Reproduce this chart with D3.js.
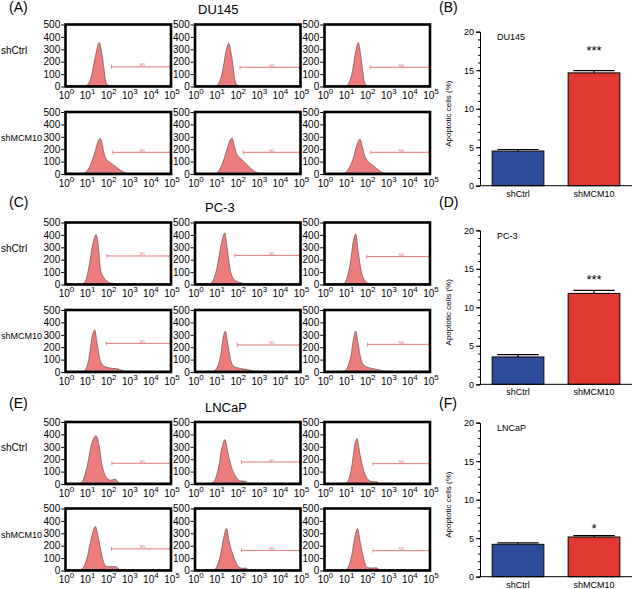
<!DOCTYPE html>
<html>
<head>
<meta charset="utf-8">
<script src="https://cdn.jsdelivr.net/npm/d3@7/dist/d3.min.js"></script>
<style>
  html, body { margin: 0; padding: 0; background: #fff; }
  svg { display: block; font-family: Arial, "Liberation Sans", sans-serif; }
</style>
</head>
<body>
<svg id="chart" width="633" height="589"></svg>
<script>
// ---------------- DATA ----------------
const cellLines = ["DU145", "PC-3", "LNCaP"];
const panelLettersLeft = ["(A)", "(C)", "(E)"];
const panelLettersRight = ["(B)", "(D)", "(F)"];
const rowLabels = ["shCtrl", "shMCM10"];
const histYTicks = [0, 100, 200, 300, 400, 500];
const histXExponents = [0, 1, 2, 3, 4, 5];

// histogram outlines: [log10 fluorescence, count]
const du145Ctrl = [
  [[0.9,0],[1.1,27],[1.26,107],[1.45,270],[1.6,354],[1.72,270],[1.81,161],[1.89,54],[2.0,13],[2.15,5],[2.3,0]],
  [[0.95,0],[1.12,25],[1.3,120],[1.48,290],[1.6,349],[1.72,260],[1.82,140],[1.9,45],[2.0,12],[2.15,6],[2.3,0]],
  [[0.98,0],[1.15,25],[1.32,120],[1.5,300],[1.6,355],[1.7,270],[1.8,140],[1.88,45],[1.98,10],[2.1,0]]
];
const du145Mcm = [
  [[0.7,0],[0.9,8],[1.18,73],[1.4,180],[1.55,265],[1.65,288],[1.75,230],[1.85,150],[1.97,113],[2.1,95],[2.28,73],[2.59,32],[2.8,12],[3.0,0]],
  [[0.9,0],[1.1,20],[1.36,113],[1.55,220],[1.68,280],[1.76,288],[1.86,230],[1.98,160],[2.16,126],[2.35,95],[2.56,59],[2.8,25],[2.97,8],[3.1,0]],
  [[0.85,0],[1.1,30],[1.35,120],[1.55,240],[1.68,282],[1.78,230],[1.9,150],[2.07,100],[2.25,75],[2.46,46],[2.7,15],[2.9,0]]
];
const pc3Ctrl = [
  [[0.75,0],[0.95,30],[1.1,132],[1.3,330],[1.45,403],[1.55,320],[1.65,132],[1.78,65],[1.89,41],[2.1,15],[2.4,6],[2.7,0]],
  [[0.65,0],[0.85,30],[1.04,132],[1.25,330],[1.41,416],[1.52,300],[1.7,93],[1.94,28],[2.3,10],[2.7,4],[3.0,0]],
  [[0.85,0],[1.0,25],[1.2,150],[1.38,360],[1.48,408],[1.6,260],[1.76,93],[2.0,16],[2.2,0]]
];
const pc3Mcm = [
  [[0.75,0],[0.95,20],[1.1,100],[1.28,300],[1.38,340],[1.5,230],[1.65,90],[1.8,50],[1.95,38],[2.2,30],[2.5,25],[2.75,8],[2.9,0]],
  [[0.8,0],[1.0,25],[1.2,120],[1.35,290],[1.44,330],[1.55,230],[1.7,90],[1.85,45],[2.0,35],[2.3,25],[2.6,15],[2.9,0]],
  [[0.85,0],[1.05,25],[1.25,130],[1.4,290],[1.48,330],[1.6,220],[1.75,90],[1.9,50],[2.05,38],[2.35,25],[2.65,15],[3.0,0]]
];
const lncapCtrl = [
  [[0.65,0],[0.8,20],[1.02,139],[1.25,330],[1.45,389],[1.6,300],[1.73,153],[1.85,80],[1.97,47],[2.15,30],[2.36,40],[2.5,15],[2.6,0]],
  [[0.7,0],[0.9,20],[1.1,120],[1.3,310],[1.42,358],[1.55,260],[1.7,152],[1.94,59],[2.15,25],[2.34,24],[2.5,8],[2.6,0]],
  [[0.95,0],[1.1,20],[1.3,150],[1.45,330],[1.54,366],[1.68,240],[1.85,112],[2.09,32],[2.3,18],[2.46,19],[2.6,6],[2.7,0]]
];
const lncapMcm = [
  [[0.6,0],[0.8,15],[1.02,100],[1.25,280],[1.42,355],[1.55,270],[1.7,140],[1.89,39],[2.1,30],[2.36,32],[2.55,10],[2.67,0]],
  [[0.85,0],[1.0,20],[1.2,120],[1.38,280],[1.49,338],[1.62,230],[1.84,108],[2.08,27],[2.25,18],[2.4,19],[2.55,6],[2.64,0]],
  [[0.95,0],[1.1,20],[1.3,130],[1.46,290],[1.56,338],[1.7,220],[1.85,100],[2.0,27],[2.2,20],[2.46,22],[2.6,6],[2.7,0]]
];
// M1 gates: [start log10, count level]
const du145Gates = [[[2.18,158],[2.13,155],[2.16,155]], [[2.24,175],[2.29,175],[2.2,175]]];
const pc3Gates   = [[[1.97,230],[1.89,235],[2.0,225]], [[1.94,231],[2.0,218],[2.04,223]]];
const lncapGates = [[[2.2,167],[2.2,177],[2.3,164]], [[2.18,174],[2.2,162],[2.3,160]]];

// bar charts
const barCategories = ["shCtrl", "shMCM10"];
const du145Means = [4.5, 14.65];
const du145Errs  = [0.2, 0.3];
const pc3Means   = [3.55, 11.8];
const pc3Errs    = [0.3, 0.4];
const lncapMeans = [4.2, 5.15];
const lncapErrs  = [0.2, 0.18];
const sigLabels  = ["***", "***", "*"];
const sigLevels  = [17.9, 13.9, 6.6];
const barYTicks  = [0, 5, 10, 15, 20];
const barColors  = ["#2e4b9b", "#e23a30"];

// ---------------- DRAW ----------------
const svg = d3.select("#chart");
const histSets = [[du145Ctrl, du145Mcm], [pc3Ctrl, pc3Mcm], [lncapCtrl, lncapMcm]];
const gateSets = [du145Gates, pc3Gates, lncapGates];
const barMeans = [du145Means, pc3Means, lncapMeans];
const barErrs  = [du145Errs, pc3Errs, lncapErrs];

const colX = [65.5, 195, 324.5];
const boxW = 105.5, boxH = 62;
const rowTops = [[24.5, 112], [222.5, 310], [422, 508.5]];
const titleY = [14, 212, 412];
const titleX = [198, 205, 205];
const letterY = [12, 207, 408];
const barZero = [185.7, 384.3, 576.7];
const barH = 154;
const rowLabelSize = [10, 9];

const histFill = "#ec7c7b", histLine = "#6a5050", gateColor = "#e0777a";

cellLines.forEach((cl, ci) => {
  // panel letters & titles
  svg.append("text").attr("x", 9).attr("y", letterY[ci]).attr("font-size", 14).text(panelLettersLeft[ci]);
  svg.append("text").attr("x", 439).attr("y", letterY[ci]).attr("font-size", 14).text(panelLettersRight[ci]);
  svg.append("text").attr("x", titleX[ci]).attr("y", titleY[ci]).attr("font-size", 13).text(cl);

  rowLabels.forEach((rl, ri) => {
    const top = rowTops[ci][ri];
    svg.append("text").attr("x", 1).attr("y", top + 29).attr("font-size", rowLabelSize[ri]).text(rl);
    histSets[ci][ri].forEach((pts, k) => {
      const left = colX[k];
      const x = d3.scaleLog().domain([1, 1e5]).range([left, left + boxW]);
      const y = d3.scaleLinear().domain([0, 500]).range([top + boxH, top]);
      const g = svg.append("g");
      const area = d3.area()
        .x(d => x(Math.pow(10, d[0]))).y0(y(0)).y1(d => y(d[1]))
        .curve(d3.curveMonotoneX);
      const line = d3.line()
        .x(d => x(Math.pow(10, d[0]))).y(d => y(d[1]))
        .curve(d3.curveMonotoneX);
      g.append("path").datum(pts).attr("d", area).attr("fill", histFill);
      g.append("path").datum(pts).attr("d", line).attr("fill", "none")
        .attr("stroke", histLine).attr("stroke-width", 0.7);
      g.append("line").attr("x1", left).attr("x2", left + boxW)
        .attr("y1", y(0) - 1).attr("y2", y(0) - 1).attr("stroke", histLine).attr("stroke-width", 0.8);
      // gate
      const gt = gateSets[ci][ri][k];
      const gx0 = x(Math.pow(10, gt[0])), gx1 = x(1e5) - 1, gy = y(gt[1]);
      g.append("line").attr("x1", gx0).attr("x2", gx1).attr("y1", gy).attr("y2", gy)
        .attr("stroke", gateColor).attr("stroke-width", 1);
      [gx0, gx1].forEach(xx => g.append("line").attr("x1", xx).attr("x2", xx)
        .attr("y1", gy - 2).attr("y2", gy + 2).attr("stroke", gateColor).attr("stroke-width", 0.8));
      g.append("text").attr("x", x(Math.pow(10, 3.65))).attr("y", gy - 0.5)
        .attr("font-size", 4).attr("text-anchor", "middle").attr("fill", gateColor).text("M1");
      // box
      g.append("rect").attr("x", left).attr("y", top).attr("width", boxW).attr("height", boxH)
        .attr("fill", "none").attr("stroke", "#000").attr("stroke-width", 2.6);
      // y axis
      const ya = g.append("g").attr("transform", `translate(${left - 1.3},0)`)
        .call(d3.axisLeft(y).tickValues(histYTicks).tickSize(3).tickPadding(1).tickFormat(d3.format("d")));
      ya.select(".domain").remove();
      ya.selectAll("text").attr("font-size", 10).attr("font-family", "Arial, 'Liberation Sans', sans-serif").attr("fill", "#000");
      ya.selectAll("line").attr("stroke", "#000");
      // x labels
      histXExponents.forEach(e => {
        const t = g.append("text").attr("x", x(Math.pow(10, e)) + 1).attr("y", top + boxH + 12.5)
          .attr("font-size", 10).attr("text-anchor", "middle");
        t.append("tspan").text("10");
        t.append("tspan").attr("dy", -5).attr("font-size", 8).text(e);
      });
    });
  });

  // bar chart
  const y0 = barZero[ci];
  const yb = d3.scaleLinear().domain([0, 20]).range([y0, y0 - barH]);
  const xb = d3.scaleBand().domain(barCategories).range([480, 632]).paddingInner(0.32).paddingOuter(0.16);
  const gb = svg.append("g");
  const means = barMeans[ci], errs = barErrs[ci];
  barCategories.forEach((c, i) => {
    const bx = xb(c), bw = xb.bandwidth();
    // error bar
    gb.append("line").attr("x1", bx + bw / 2).attr("x2", bx + bw / 2)
      .attr("y1", yb(means[i])).attr("y2", yb(means[i] + errs[i])).attr("stroke", "#000").attr("stroke-width", 1.2);
    gb.append("line").attr("x1", bx + bw * 0.1).attr("x2", bx + bw * 0.9)
      .attr("y1", yb(means[i] + errs[i])).attr("y2", yb(means[i] + errs[i])).attr("stroke", "#000").attr("stroke-width", 1.2);
    gb.append("rect").attr("x", bx).attr("y", yb(means[i])).attr("width", bw)
      .attr("height", yb(0) - yb(means[i])).attr("fill", barColors[i]).attr("stroke", "#111").attr("stroke-width", 1.1);
    gb.append("text").attr("x", bx + bw / 2).attr("y", y0 + 11).attr("font-size", 9)
      .attr("text-anchor", "middle").text(c);
  });
  // significance
  gb.append("text").attr("x", xb("shMCM10") + xb.bandwidth() / 2).attr("y", yb(sigLevels[ci]) + 7)
    .attr("font-size", 13).attr("text-anchor", "middle").text(sigLabels[ci]);
  // axes
  const minor = gb.append("g").attr("transform", "translate(480,0)")
    .call(d3.axisLeft(yb).tickValues(d3.range(0, 21)).tickSize(2).tickFormat(""));
  minor.select(".domain").remove();
  const ya = gb.append("g").attr("transform", "translate(480,0)")
    .call(d3.axisLeft(yb).tickValues(barYTicks).tickSize(4).tickPadding(2));
  ya.selectAll("text").attr("font-size", 9).attr("font-family", "Arial, 'Liberation Sans', sans-serif");
  gb.append("line").attr("x1", 480).attr("x2", 632).attr("y1", y0).attr("y2", y0).attr("stroke", "#000");
  gb.append("text").attr("transform", `translate(451,${y0 - barH / 2 + 5}) rotate(-90)`)
    .attr("font-size", 8).attr("text-anchor", "middle").text("Apoptotic cells (%)");
  gb.append("text").attr("x", 497).attr("y", y0 - barH + 8.5).attr("font-size", 9).text(cl);
});
</script>
</body>
</html>
